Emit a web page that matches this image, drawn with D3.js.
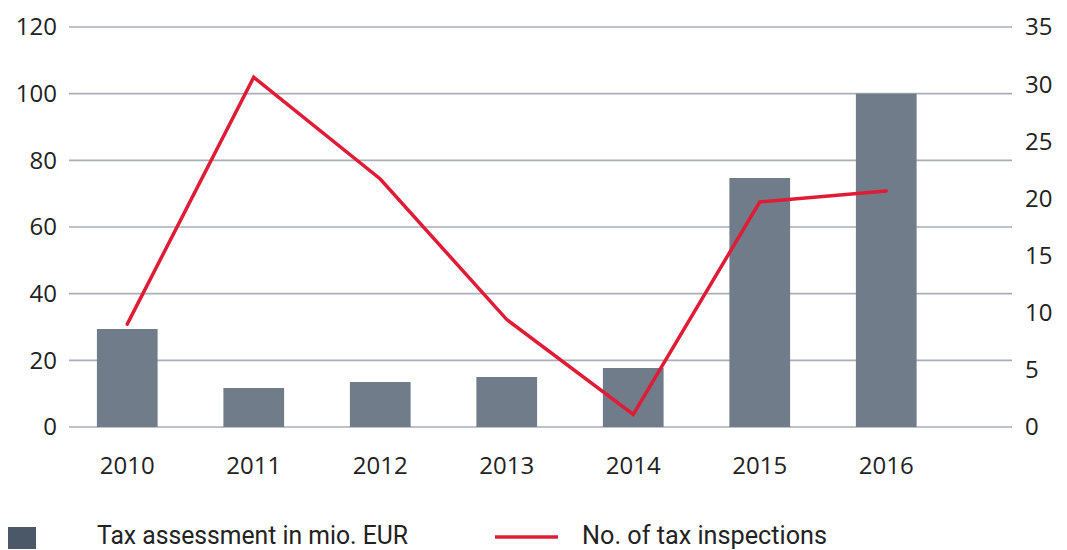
<!DOCTYPE html>
<html>
<head>
<meta charset="utf-8">
<script src="https://cdn.jsdelivr.net/npm/d3@7"></script>
<style>
  body { margin: 0; background: #fff; }
  svg text { font-family: "Open Sans", "Noto Sans", sans-serif; fill: #222; }
  .legend text { font-family: "Roboto", "Liberation Sans", sans-serif; }
</style>
</head>
<body>
<div id="chart"></div>
<script>
// data
const years = ['2010', '2011', '2012', '2013', '2014', '2015', '2016'];
const taxAssessment = [29.4, 11.7, 13.5, 15, 17.7, 74.7, 100];   // mio. EUR, left axis
const inspections = [9, 30.6, 21.7, 9.4, 1.1, 19.7, 20.65];       // count, right axis
const leftTicks = [0, 20, 40, 60, 80, 100, 120];
const rightTicks = [0, 5, 10, 15, 20, 25, 30, 35];

const width = 1067, height = 550;
const gridLeft = 69, gridRight = 1012;   // horizontal extent of gridlines
const yTop = 27, yBottom = 427;

const svg = d3.select('#chart')
    .append('svg')
    .attr('width', width)
    .attr('height', height);

// scales
const x = d3.scaleBand()
    .domain(years)
    .range([64, 949.5])
    .paddingInner(0.52)
    .paddingOuter(0.26);

const yLeft = d3.scaleLinear().domain([0, 120]).range([yBottom, yTop]);
const yRight = d3.scaleLinear().domain([0, 35]).range([yBottom, yTop]);

// gridlines (left ticks)
svg.append('g')
    .selectAll('line')
    .data(leftTicks)
    .join('line')
    .attr('x1', gridLeft)
    .attr('x2', gridRight)
    .attr('y1', d => yLeft(d))
    .attr('y2', d => yLeft(d))
    .style('stroke', '#a7aeb9')
    .style('stroke-width', 1.6);

// left axis labels
svg.append('g')
    .selectAll('text')
    .data(leftTicks)
    .join('text')
    .attr('x', 57)
    .attr('y', d => yLeft(d))
    .attr('dy', '0.35em')
    .attr('text-anchor', 'end')
    .style('font-size', '24px')
    .text(d => d);

// right axis labels
svg.append('g')
    .selectAll('text')
    .data(rightTicks)
    .join('text')
    .attr('x', 1025)
    .attr('y', d => yRight(d))
    .attr('dy', '0.35em')
    .attr('text-anchor', 'start')
    .style('font-size', '24px')
    .text(d => d);

// bars
svg.append('g')
    .selectAll('rect')
    .data(years.map((k, i) => ({k, v: taxAssessment[i]})))
    .join('rect')
    .attr('x', d => x(d.k))
    .attr('width', x.bandwidth())
    .attr('y', d => yLeft(d.v))
    .attr('height', d => yBottom - yLeft(d.v))
    .style('fill', '#717c8a');

// x labels
svg.append('g')
    .selectAll('text')
    .data(years)
    .join('text')
    .attr('x', d => x(d) + x.bandwidth() / 2)
    .attr('y', 466)
    .attr('dy', '0.35em')
    .attr('text-anchor', 'middle')
    .style('font-size', '24px')
    .text(d => d);

// line
const line = d3.line()
    .x((d, i) => x(years[i]) + x.bandwidth() / 2)
    .y(d => yRight(d));

svg.append('path')
    .datum(inspections)
    .attr('d', line)
    .style('fill', 'none')
    .style('stroke', '#e01b36')
    .style('stroke-width', 3.5)
    .style('stroke-linejoin', 'miter')
    .style('stroke-linecap', 'round');

// legend
const legend = svg.append('g').classed('legend', true);
legend.append('rect')
    .attr('x', 8).attr('y', 527)
    .attr('width', 28).attr('height', 22)
    .style('fill', '#4a5868');
legend.append('text')
    .attr('x', 97).attr('y', 535)
    .attr('dy', '0.35em')
    .attr('textLength', 311)
    .attr('lengthAdjust', 'spacingAndGlyphs')
    .style('font-size', '25px')
    .text('Tax assessment in mio. EUR');
legend.append('line')
    .attr('x1', 495).attr('x2', 558)
    .attr('y1', 537).attr('y2', 537)
    .style('stroke', '#e01b36')
    .style('stroke-width', 3.5);
legend.append('text')
    .attr('x', 582).attr('y', 535)
    .attr('dy', '0.35em')
    .attr('textLength', 245)
    .attr('lengthAdjust', 'spacingAndGlyphs')
    .style('font-size', '25px')
    .text('No. of tax inspections');
</script>
</body>
</html>
